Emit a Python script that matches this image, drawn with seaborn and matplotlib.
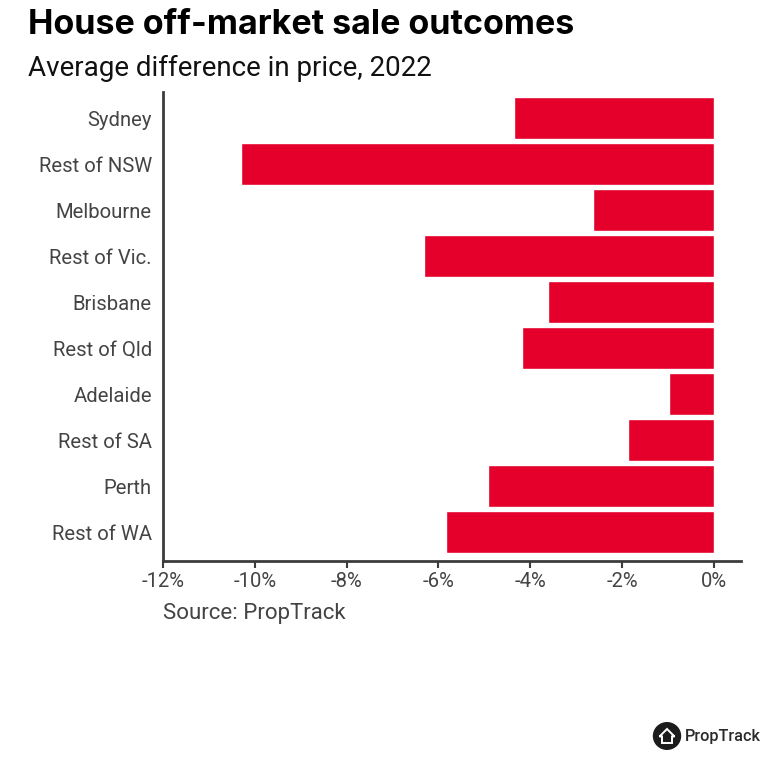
import matplotlib
matplotlib.use('Agg')
import matplotlib.pyplot as plt
import seaborn as sns
import pandas as pd
from matplotlib.patches import Circle, Polygon

regions = ['Sydney', 'Rest of NSW', 'Melbourne', 'Rest of Vic.', 'Brisbane',
           'Rest of Qld', 'Adelaide', 'Rest of SA', 'Perth', 'Rest of WA']
price_diff = [-4.35, -10.3, -2.63, -6.31, -3.62, -4.17, -0.98, -1.87, -4.92, -5.83]
xticks = [-12, -10, -8, -6, -4, -2, 0]
xlabels = ['-12%', '-10%', '-8%', '-6%', '-4%', '-2%', '0%']

sns.set_style('white')
plt.rcParams['font.family'] = ['Roboto', 'DejaVu Sans']
df = pd.DataFrame({'region': regions, 'diff': price_diff})

fig = plt.figure(figsize=(7.76, 7.64), dpi=100)
ax = fig.add_axes([163 / 776, 1 - 561 / 764, (741 - 163) / 776, (561 - 92) / 764])
sns.barplot(data=df, y='region', x='diff', color='#E4002B', saturation=1,
            width=0.913, ax=ax)

ax.set_xlim(-12, 0.59)
ax.set_ylim(9.63, -0.566)
ax.set_xticks(xticks)
ax.set_xticklabels(xlabels)
ax.set_xlabel('')
ax.set_ylabel('')
ax.tick_params(axis='x', length=5, width=1.5, color='#3c3c3c', labelsize=14.6,
               labelcolor='#444444', pad=3, bottom=True)
ax.tick_params(axis='y', length=0, labelsize=14.6, labelcolor='#444444', pad=8)
for side in ['top', 'right']:
    ax.spines[side].set_visible(False)
for side in ['left', 'bottom']:
    ax.spines[side].set_linewidth(2)
    ax.spines[side].set_color('#3c3c3c')

fig.text(28 / 776, 1 - 25 / 764, 'House off-market sale outcomes', fontsize=24.5,
         fontweight='bold', family=['Inter', 'DejaVu Sans'], color='black', va='center')
fig.text(28 / 776, 1 - 68 / 764, 'Average difference in price, 2022', fontsize=20,
         color='#111111', va='center')
fig.text(163 / 776, 1 - 613 / 764, 'Source: PropTrack', fontsize=16,
         color='#444444', va='center')

# logo
fig.add_artist(Circle((667 / 776, 1 - 736 / 764), 13.5 / 776, color='#1c1c1c',
                      transform=fig.transFigure))
fig.add_artist(Polygon([(659.5 / 776, 1 - 736.5 / 764), (667 / 776, 1 - 729 / 764),
                        (674.5 / 776, 1 - 736.5 / 764), (672 / 776, 1 - 736.5 / 764),
                        (672 / 776, 1 - 743 / 764), (662 / 776, 1 - 743 / 764),
                        (662 / 776, 1 - 736.5 / 764)], closed=True, facecolor='none',
                       edgecolor='white', linewidth=1.4, transform=fig.transFigure))
fig.text(685 / 776, 1 - 737 / 764, 'PropTrack', fontsize=11.7, fontweight='medium',
         color='#2a2a2a', va='center')

fig.savefig('out.png', dpi=100)
